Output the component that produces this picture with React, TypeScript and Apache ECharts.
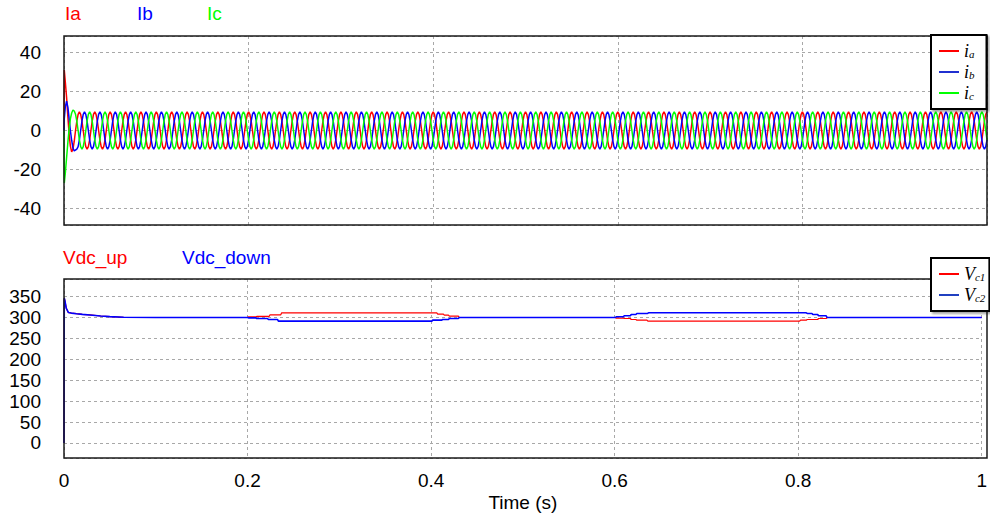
import React, { useEffect, useRef } from "react";
import * as echarts from "echarts";

// ---------- Data ----------
// Phase currents: start-up transient samples (s, A)
const transientTime = [0, 0.0003, 0.0014, 0.0028, 0.0042, 0.0056, 0.0069, 0.0083, 0.0097, 0.0111, 0.0125, 0.0139, 0.0153];
const iaTransient = [0, 31, 25, 17, 7, -2, -8, -11, -9.5, -5.5, 0, 4.8, 8.3];
const ibTransient = [0, 6, 12, 15, 12, 6, 0, -5, -9, -10.5, -10, -9.6, -8.3];
const icTransient = [0, -27, -22, -14, -6, 1, 6, 9, 10.5, 10, 8.3, 4.8, 0];

// Steady-state: one 60 Hz period, 12 samples (A)
const iaCycle = [9.6, 8.3, 4.8, 0, -4.8, -8.3, -9.6, -8.3, -4.8, 0, 4.8, 8.3];
const ibCycle = [-4.8, 0, 4.8, 8.3, 9.6, 8.3, 4.8, 0, -4.8, -8.3, -9.6, -8.3];
const icCycle = [-4.8, -8.3, -9.6, -8.3, -4.8, 0, 4.8, 8.3, 9.6, 8.3, 4.8, 0];
const samplesPerSecond = 720;
const firstSteadySample = 12;
const lastSample = 720;

// DC-link capacitor voltages (s, V)
const vc1Time = [0, 0.0003, 0.001, 0.0025, 0.0047, 0.008, 0.0137, 0.02, 0.0282, 0.04, 0.05, 0.065, 0.1,
  0.2, 0.201, 0.209, 0.21, 0.2235, 0.2245, 0.2362, 0.2372, 0.4062, 0.4072, 0.4134, 0.4144, 0.4189, 0.4199, 0.4297, 0.4307,
  0.6008, 0.6018, 0.6095, 0.6105, 0.6171, 0.6181, 0.6232, 0.6242, 0.6352, 0.6362, 0.8016, 0.8026, 0.8088, 0.8098, 0.8212, 0.8222, 0.8305, 0.8315, 1];
const vc1Values = [0, 346, 340, 322, 312, 310.5, 309, 307.5, 306, 303.5, 302, 300.5, 300,
  300, 301.6, 301.6, 302.4, 302.4, 306.4, 306.4, 311.2, 311.2, 308, 308, 305.6, 305.6, 303.2, 303.2, 300,
  300, 298.4, 298.4, 297.6, 297.6, 295.2, 295.2, 293.6, 293.6, 291.2, 291.2, 293.6, 293.6, 295.2, 295.2, 297.6, 297.6, 300, 300];
const vc2Time = [0, 0.0003, 0.001, 0.0025, 0.0047, 0.008, 0.0137, 0.02, 0.0282, 0.04, 0.05, 0.065, 0.1,
  0.2, 0.201, 0.209, 0.21, 0.2217, 0.2227, 0.2326, 0.2336, 0.4008, 0.4018, 0.4116, 0.4126, 0.4189, 0.4199, 0.4297, 0.4307,
  0.6008, 0.6018, 0.6095, 0.6105, 0.6171, 0.6181, 0.6232, 0.6242, 0.6359, 0.6369, 0.8088, 0.8098, 0.815, 0.816, 0.8212, 0.8222, 0.8305, 0.8315, 1];
const vc2Values = [0, 346, 340, 322, 312, 310.5, 309, 307.5, 306, 303.5, 302, 300.5, 300,
  300, 299, 299, 297.6, 297.6, 295.2, 295.2, 291.2, 291.2, 293.6, 293.6, 295.2, 295.2, 297.6, 297.6, 300,
  300, 301.6, 301.6, 304, 304, 307.2, 307.2, 309.6, 309.6, 311.2, 311.2, 309.6, 309.6, 307.2, 307.2, 304, 304, 300, 300];

const currentTicks = [-40, -20, 0, 20, 40];
const voltageTicks = [0, 50, 100, 150, 200, 250, 300, 350];
const timeTicks = [0, 0.2, 0.4, 0.6, 0.8, 1];

const currentTitles = ["Ia", "Ib", "Ic"];
const voltageTitles = ["Vdc_up", "Vdc_down"];

// ---------- helpers ----------
function buildCurrent(trans: number[], cycle: number[]): number[][] {
  const pts = transientTime.map((t, i) => [t, trans[i]]);
  for (let k = firstSteadySample; k <= lastSample; k++) {
    pts.push([k / samplesPerSecond, cycle[k % cycle.length]]);
  }
  return pts;
}
function pair(ts: number[], vs: number[]): number[][] {
  return ts.map((t, i) => [t, vs[i]]);
}

const RED = "#ff0000";
const BLUE = "#0000ff";
const GREEN = "#00ff00";
const SANS = "'Liberation Sans', Arial, sans-serif";
const SERIF = "'Liberation Serif', 'Times New Roman', serif";
const FONT_SIZE = 19;

const GRID_LEFT = 64;
const GRID_WIDTH = 923;
const TOP_GRID = { top: 36, height: 189 };
const BOTTOM_GRID = { top: 279, height: 179 };

export default function App() {
  const ref = useRef<HTMLDivElement>(null);
  useEffect(() => {
    document.body.style.margin = "0";
    const chart = echarts.init(ref.current!, undefined, { renderer: "svg" });
    const splitLine = { show: true, lineStyle: { color: "#a8a8a8", width: 1, type: [3, 3] as any } };
    const labelStyle = { color: "#000", fontSize: FONT_SIZE, fontFamily: SANS };
    const gridCommon = { left: GRID_LEFT, width: GRID_WIDTH, show: false, containLabel: false };
    const legendCommon = {
      orient: "vertical" as const,
      left: 931,
      icon: "rect",
      itemWidth: 20,
      itemHeight: 2,
      itemGap: 3,
      backgroundColor: "#fff",
      borderColor: "#000",
      borderWidth: 2,
      shadowColor: "rgba(0,0,0,0.35)",
      shadowBlur: 2,
      shadowOffsetX: 2,
      shadowOffsetY: 2,
      selectedMode: false,
      z: 20,
    };
    const rich = {
      v: { fontFamily: SERIF, fontStyle: "italic", fontSize: 18, lineHeight: 16, color: "#000" },
      s: { fontFamily: SERIF, fontStyle: "italic", fontSize: 11, lineHeight: 16, verticalAlign: "bottom", color: "#000", padding: [6, 0, 0, 0] },
    };
    const legendNames: Record<string, string> = {
      ia: "{v|i}{s|a}",
      ib: "{v|i}{s|b}",
      ic: "{v|i}{s|c}",
      vc1: "{v|V}{s|c1}",
      vc2: "{v|V}{s|c2}",
    };

    const titleColors = [RED, BLUE, GREEN];
    const titleX = [65, 137, 207];
    const vTitleColors = [RED, BLUE];
    const vTitleX = [63, 182];

    const frame = (g: { top: number; height: number }) => ({
      type: "rect",
      z: 10,
      silent: true,
      shape: { x: GRID_LEFT, y: g.top, width: GRID_WIDTH, height: g.height },
      style: { fill: "none", stroke: "#1a1a1a", lineWidth: 1.5 },
    });

    chart.setOption({
      animation: false,
      backgroundColor: "#fff",
      grid: [
        { ...gridCommon, ...TOP_GRID },
        { ...gridCommon, ...BOTTOM_GRID },
      ],
      xAxis: [
        {
          type: "value", gridIndex: 0, min: timeTicks[0], max: timeTicks[timeTicks.length - 1], interval: 0.2,
          axisLine: { show: false }, axisTick: { show: false }, axisLabel: { show: false }, splitLine,
        },
        {
          type: "value", gridIndex: 1, min: timeTicks[0], max: timeTicks[timeTicks.length - 1], interval: 0.2,
          axisLine: { show: false }, axisTick: { show: false },
          axisLabel: { ...labelStyle, margin: 13 },
          splitLine,
          name: "Time (s)", nameLocation: "middle", nameGap: 35,
          nameTextStyle: { ...labelStyle },
        },
      ],
      yAxis: [
        {
          type: "value", gridIndex: 0, min: -48.5, max: 48.5, splitNumber: currentTicks.length,
          axisLine: { show: false }, axisTick: { show: false },
          axisLabel: { ...labelStyle, margin: 23, showMinLabel: false, showMaxLabel: false,
            formatter: (v: number) => (currentTicks.includes(v) ? String(v) : "") },
          splitLine,
        },
        {
          type: "value", gridIndex: 1, min: -36, max: 392, splitNumber: 9,
          axisLine: { show: false }, axisTick: { show: false },
          axisLabel: { ...labelStyle, margin: 23, showMinLabel: false, showMaxLabel: false,
            formatter: (v: number) => (voltageTicks.includes(v) ? String(v) : "") },
          splitLine,
        },
      ],
      legend: [
        { ...legendCommon, top: 35, padding: [7, 12, 7, 8], data: ["ia", "ib", "ic"],
          formatter: (n: string) => legendNames[n], textStyle: { rich } },
        { ...legendCommon, top: 258, padding: [7, 4, 7, 8], data: ["vc1", "vc2"],
          formatter: (n: string) => legendNames[n], textStyle: { rich } },
      ],
      graphic: [
        frame(TOP_GRID),
        frame(BOTTOM_GRID),
        ...currentTitles.map((t, i) => ({
          type: "text", left: titleX[i], top: 4,
          style: { text: t, fill: titleColors[i], font: `${FONT_SIZE}px ${SANS}` },
        })),
        ...voltageTitles.map((t, i) => ({
          type: "text", left: vTitleX[i], top: 248,
          style: { text: t, fill: vTitleColors[i], font: `${FONT_SIZE}px ${SANS}` },
        })),
      ],
      series: [
        { name: "ia", type: "line", xAxisIndex: 0, yAxisIndex: 0, data: buildCurrent(iaTransient, iaCycle), showSymbol: false, color: RED, lineStyle: { width: 1.5, color: RED } },
        { name: "ib", type: "line", xAxisIndex: 0, yAxisIndex: 0, data: buildCurrent(ibTransient, ibCycle), showSymbol: false, color: "#2030d0", lineStyle: { width: 1.5, color: BLUE } },
        { name: "ic", type: "line", xAxisIndex: 0, yAxisIndex: 0, data: buildCurrent(icTransient, icCycle), showSymbol: false, color: GREEN, lineStyle: { width: 1.5, color: GREEN } },
        { name: "vc1", type: "line", xAxisIndex: 1, yAxisIndex: 1, data: pair(vc1Time, vc1Values), showSymbol: false, color: RED, lineStyle: { width: 1.2, color: RED } },
        { name: "vc2", type: "line", xAxisIndex: 1, yAxisIndex: 1, data: pair(vc2Time, vc2Values), showSymbol: false, color: "#2040c0", lineStyle: { width: 1.6, color: BLUE } },
      ],
    });
    return () => chart.dispose();
  }, []);
  return <div ref={ref} style={{ position: "fixed", left: 0, top: 0, width: 990, height: 518 }} />;
}
